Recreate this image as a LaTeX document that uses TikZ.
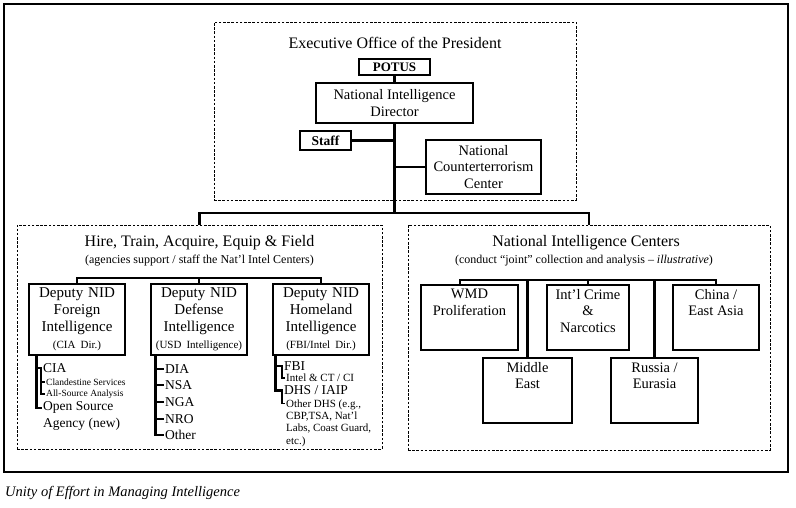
\documentclass[tikz,border=0pt]{standalone}
\usepackage{fontspec}
\setmainfont{Liberation Serif}
\usetikzlibrary{positioning}

\tikzset{
  unitbox/.style={draw, line width=1.6pt, align=center, inner sep=1pt,
    font=\fontsize{14.5}{16.5}\selectfont},
  zone/.style={draw, line width=1pt, dash pattern=on 2.6pt off 1.6pt},
  link/.style={line width=2.8pt},
  tie/.style={line width=1.5pt},
  heading/.style={inner sep=0pt, font=\fontsize{16}{18}\selectfont},
  subheading/.style={inner sep=0pt, font=\fontsize{12}{14}\selectfont},
  item/.style={anchor=west, inner sep=1pt, font=\fontsize{13.5}{17}\selectfont},
  minor/.style={anchor=west, inner sep=1pt, font=\fontsize{9.5}{11}\selectfont},
  note/.style={anchor=west, inner sep=1pt, align=left, font=\fontsize{11}{12.3}\selectfont},
  centre/.style={unitbox, minimum height=65pt},
  centrename/.style={anchor=north, yshift=-4pt, align=center, inner sep=1pt,
    font=\fontsize{14.5}{16.5}\selectfont},
  deputy/.style={unitbox, text width=94pt, minimum height=71pt,
    font=\fontsize{15}{17}\selectfont},
}

\newcommand{\dirline}[1]{{\fontsize{11}{13}\selectfont #1}}

\begin{document}
\begin{tikzpicture}[x=1pt,y=-1pt]
  \useasboundingbox (0,0) rectangle (796,507);
  \draw[line width=2pt] (4,4) rectangle (788,472);

  % executive office
  \node[zone, minimum width=362pt, minimum height=178pt] (eop) at (395,111) {};
  \node[heading] (eoptitle) at (395,43) {Executive Office of the President};
  \node[unitbox, font=\bfseries\fontsize{13}{15}\selectfont, minimum width=71pt, minimum height=16pt] (potus) at (394.5,67) {POTUS};
  \node[unitbox, minimum width=157pt, minimum height=40pt] (nid) at (394.5,103) {National Intelligence\\Director};
  \node[unitbox, font=\bfseries\fontsize{13.5}{15}\selectfont, minimum width=51pt, minimum height=19pt, inner sep=0pt] (staff) at (325.5,140.5) {Staff};
  \node[unitbox, minimum width=115pt, minimum height=54pt] (nctc) at (483.5,167) {National\\Counterterrorism\\Center};
  \coordinate (bus) at (394.5,213);
  \draw[link] (potus) -- (nid);
  \draw[link] (nid) -- (bus);
  \draw[link] (staff) -- (staff -| bus);
  \draw[link] (nctc) -- (nctc -| bus);

  % hire, train, acquire
  \node[zone, minimum width=365pt, minimum height=224pt] (field) at (199.5,337) {};
  \node[heading] (fieldtitle) at (199.5,243) {Hire, Train, Acquire, Equip \& Field};
  \node[subheading] (fieldsub) at (199.5,261) {(agencies support / staff the Nat’l Intel Centers)};
  \node[deputy] (fi) at (77,319.5) {Deputy NID\\Foreign\\Intelligence\\\dirline{(CIA Dir.)}};
  \node[deputy] (di) at (199,319.5) {Deputy NID\\Defense\\Intelligence\\\dirline{(USD Intelligence)}};
  \node[deputy] (hi) at (321,319.5) {Deputy NID\\Homeland\\Intelligence\\\dirline{(FBI/Intel Dir.)}};
  \coordinate (fieldbar) at (199,278);
  \draw[link] (fi) |- (fieldbar) -| (hi);
  \draw[link] (di) -- (fieldbar);

  % national intelligence centers
  \node[zone, minimum width=362pt, minimum height=225pt] (nic) at (589,337.5) {};
  \node[heading] (nictitle) at (586,243) {National Intelligence Centers};
  \node[subheading] (nicsub) at (584,261) {(conduct “joint” collection and analysis – \textit{illustrative})};
  \draw[link] (field) |- (bus) -| (nic);

  \node[centre, minimum width=97pt, label={[centrename]north:{WMD\\Proliferation}}] (wmd) at (469.5,317.5) {};
  \node[centre, minimum width=82pt, label={[centrename]north:{Int’l Crime\\\&\\Narcotics}}] (crime) at (588,317.5) {};
  \node[centre, minimum width=86pt, label={[centrename]north:{China /\\East Asia}}] (china) at (716,317.5) {};
  \node[centre, minimum width=89pt, label={[centrename]north:{Middle\\East}}] (mde) at (527.5,390.5) {};
  \node[centre, minimum width=87pt, label={[centrename]north:{Russia /\\Eurasia}}] (rus) at (654.5,390.5) {};
  \coordinate (nicbar) at (588,280);
  \draw[link] ([xshift=-9.5pt]wmd.north) |- (nicbar) -| (china);
  \draw[link] (crime) -- (nicbar);
  \draw[link] (mde) -- (mde |- nicbar);
  \draw[link] (rus) -- (rus |- nicbar);

  % agencies under each deputy
  \node[item] (cia) at (42,368) {CIA};
  \node[minor] (clan) at (45,382) {Clandestine Services};
  \node[minor] (asa) at (45,394) {All-Source Analysis};
  \node[item, anchor=north west, align=left] (osa) at (42,400) {Open Source\\Agency (new)};
  \draw[link] ([xshift=8pt]fi.south west) |- (cia);
  \draw[link] ([xshift=8pt]fi.south west) |- ([yshift=-8pt]osa.north west);
  \draw[tie] ([xshift=-1pt]cia.west) |- (clan);
  \draw[tie] ([xshift=-1pt]cia.west) |- (asa);

  \foreach \y/\nm/\txt in {369/dia/DIA, 385/nsa/NSA, 402/nga/NGA, 419/nro/NRO, 435/other/Other}{
    \node[item] (\nm) at (164,\y) {\txt};
    \draw[link] ([xshift=5pt]di.south west) |- (\nm);
  }

  \node[item] (fbi) at (283,366) {FBI};
  \node[note] (ict) at (285,378) {Intel \& CT / CI};
  \node[item] (dhs) at (283,390.5) {DHS / IAIP};
  \node[note, anchor=north west] (odhs) at (285,398.5) {Other DHS (e.g.,\\CBP,TSA, Nat’l\\Labs, Coast Guard,\\etc.)};
  \draw[link] ([xshift=3pt]hi.south west) |- (fbi);
  \draw[link] ([xshift=3pt]hi.south west) |- (dhs);
  \draw[tie] ([xshift=-1pt]fbi.west) |- (ict);
  \draw[tie] ([xshift=-1pt]dhs.west) |- ([yshift=-5pt]odhs.north west);

  \node[anchor=west, inner sep=0pt, font=\itshape\fontsize{14.5}{16}\selectfont] (caption) at (5,493) {Unity of Effort in Managing Intelligence};
\end{tikzpicture}
\end{document}
